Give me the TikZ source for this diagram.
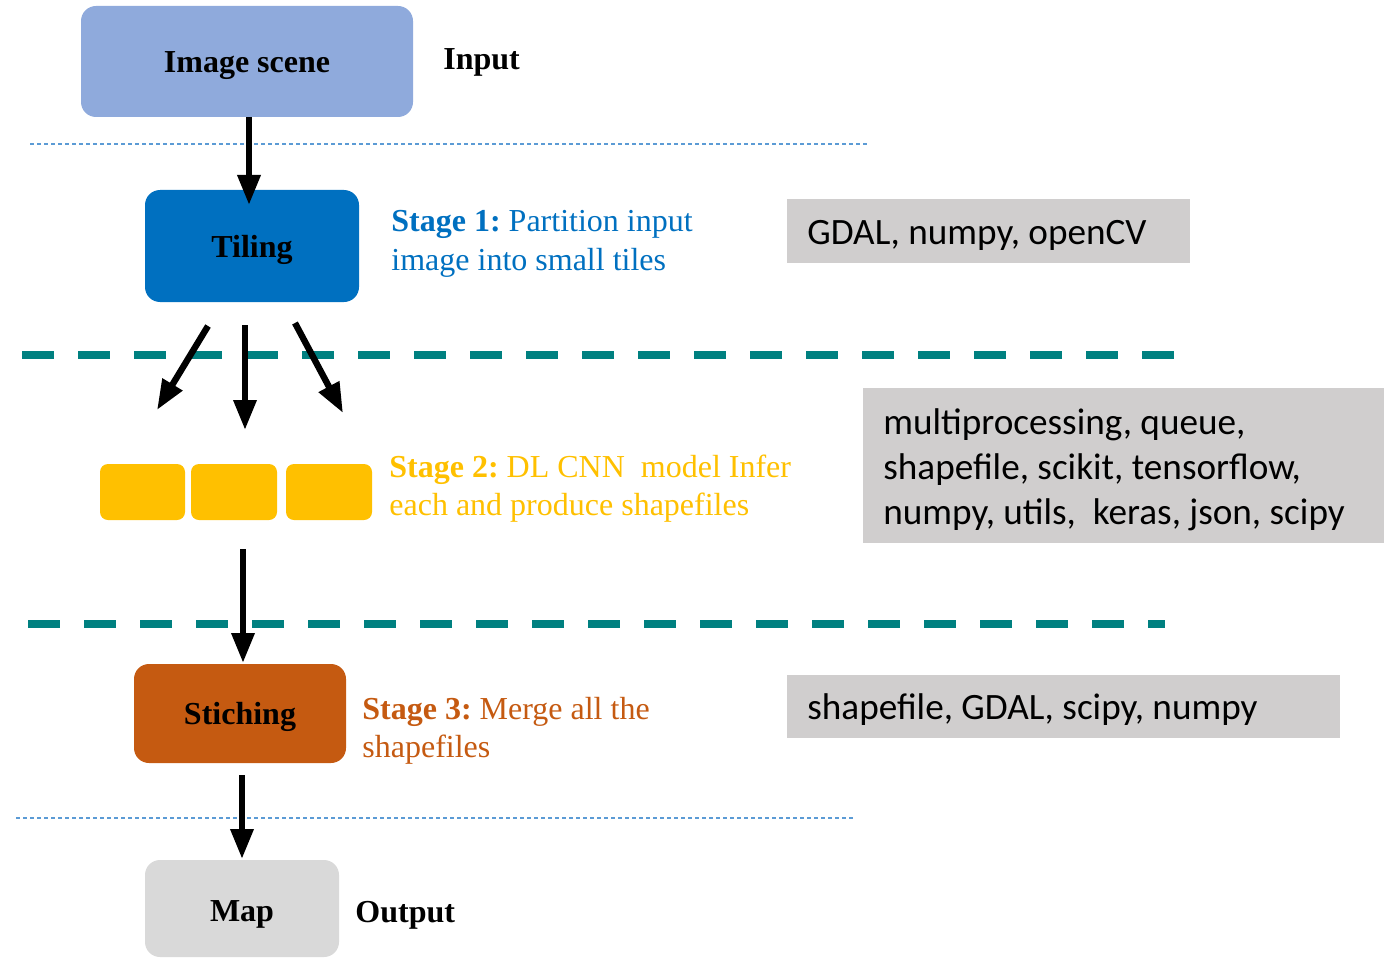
\documentclass[tikz,border=0pt]{standalone}
\usepackage{fontspec}
\setmainfont{Liberation Serif}
\newfontfamily\libfont{Carlito}
\usetikzlibrary{arrows.meta}
\definecolor{imgblue}{HTML}{8FAADC}
\definecolor{tileblue}{HTML}{0070C0}
\definecolor{tileyel}{HTML}{FFC000}
\definecolor{stitchor}{HTML}{C55A11}
\definecolor{mapgray}{HTML}{D9D9D9}
\definecolor{libgray}{HTML}{D0CECE}
\definecolor{tealline}{HTML}{008080}
\definecolor{thinblue}{HTML}{5B9BD5}
\frenchspacing
\tikzset{
  box/.style={rounded corners=7.5pt, inner sep=0pt, text height=12pt, text depth=1pt, font=\fontsize{16}{19}\selectfont\bfseries, text=black},
  tilebox/.style={rounded corners=4pt, inner sep=0pt, fill=tileyel, minimum height=28pt},
  libfill/.style={fill=libgray, inner sep=0pt, anchor=west},
  libtext/.style={inner sep=0pt, align=left, anchor=west, font=\libfont\fontsize{18.6}{22.5}\selectfont\frenchspacing},
  lbl/.style={anchor=base west, inner sep=0pt, font=\fontsize{16}{19}\selectfont\frenchspacing},
  arr/.style={line width=3.2pt, -{Triangle[length=15pt,width=11pt]}},
  thinsep/.style={thinblue, line width=0.6pt, dash pattern=on 2pt off 1.5pt},
  thicksep/.style={tealline, line width=4pt, dash pattern=on 16pt off 12pt},
}
\begin{document}
\begin{tikzpicture}[x=0.5pt,y=-0.5pt]
\useasboundingbox (0,0) rectangle (1384,957);
% separators
\draw[thinsep] (30,144) -- (869,144);
\draw[thicksep] (22,355) -- (1174,355);
\draw[thicksep] (28,624) -- (1165,624);
\draw[thinsep] (16,818) -- (854,818);
% main boxes
\node[box, fill=imgblue, minimum width=166pt, minimum height=55.5pt] (img) at (247,61.5) {Image scene};
\node[box, fill=tileblue, minimum width=107pt, minimum height=56pt] (tiling) at (252,246) {Tiling};
\node[tilebox, minimum width=42.5pt] (t1) at (142.5,492) {};
\node[tilebox, minimum width=43pt] (t2) at (234,492) {};
\node[tilebox, minimum width=43pt] (t3) at (329,492) {};
\node[box, fill=stitchor, minimum width=106pt, minimum height=49.5pt] (stitch) at (240,713.5) {Stiching};
\node[box, fill=mapgray, minimum width=97pt, minimum height=48.5pt, text height=12.5pt, text depth=0pt] (map) at (242,908.5) {Map};
% side labels
\node[lbl, font=\fontsize{16}{19}\selectfont\bfseries] (input) at (443,70) {Input};
\node[lbl, font=\fontsize{16}{19}\selectfont\bfseries] (output) at (355,922) {Output};
\node[lbl, text=tileblue] (s1a) at (391,231) {\textbf{Stage 1:} Partition input};
\node[lbl, text=tileblue] (s1b) at (391,270) {image into small tiles};
\node[lbl, text=tileyel] (s2a) at (389,477) {\textbf{Stage 2:} DL CNN\ \ model Infer};
\node[lbl, text=tileyel] (s2b) at (389,515) {each and produce shapefiles};
\node[lbl, text=stitchor] (s3a) at (362,719) {\textbf{Stage 3:} Merge all the};
\node[lbl, text=stitchor] (s3b) at (362,757) {shapefiles};
% library boxes
\node[libfill, minimum width=201.5pt, minimum height=32pt] (lib1) at (787,231) {};
\node[libtext] (lib1t) at (807,235) {GDAL, numpy, openCV};
\node[libfill, minimum width=260.5pt, minimum height=77.5pt] (lib2) at (863,465.5) {};
\node[libtext] (lib2t) at (883,469.5) {multiprocessing, queue,\\shapefile, scikit, tensorflow,\\numpy, utils,\ \ keras, json, scipy};
\node[libfill, minimum width=276.5pt, minimum height=31.5pt] (lib3) at (787,706.5) {};
\node[libtext] (lib3t) at (807,710) {shapefile, GDAL, scipy, numpy};
% arrow endpoints
\coordinate (a0s) at (249,117);
\coordinate (a0e) at (249,205);
\coordinate (fLs) at (208,326);
\coordinate (fLe) at (157,410);
\coordinate (fMs) at (245,325);
\coordinate (fMe) at (245,430);
\coordinate (fRs) at (295,323);
\coordinate (fRe) at (343,413);
\coordinate (a2s) at (243,549);
\coordinate (a2e) at (243,663);
\coordinate (a3s) at (242,775);
\coordinate (a3e) at (242,859);
% arrows
\draw[arr] (a0s) -- (a0e);
\draw[arr] (fLs) -- (fLe);
\draw[arr] (fMs) -- (fMe);
\draw[arr] (fRs) -- (fRe);
\draw[arr] (a2s) -- (a2e);
\draw[arr] (a3s) -- (a3e);
\end{tikzpicture}
\end{document}
